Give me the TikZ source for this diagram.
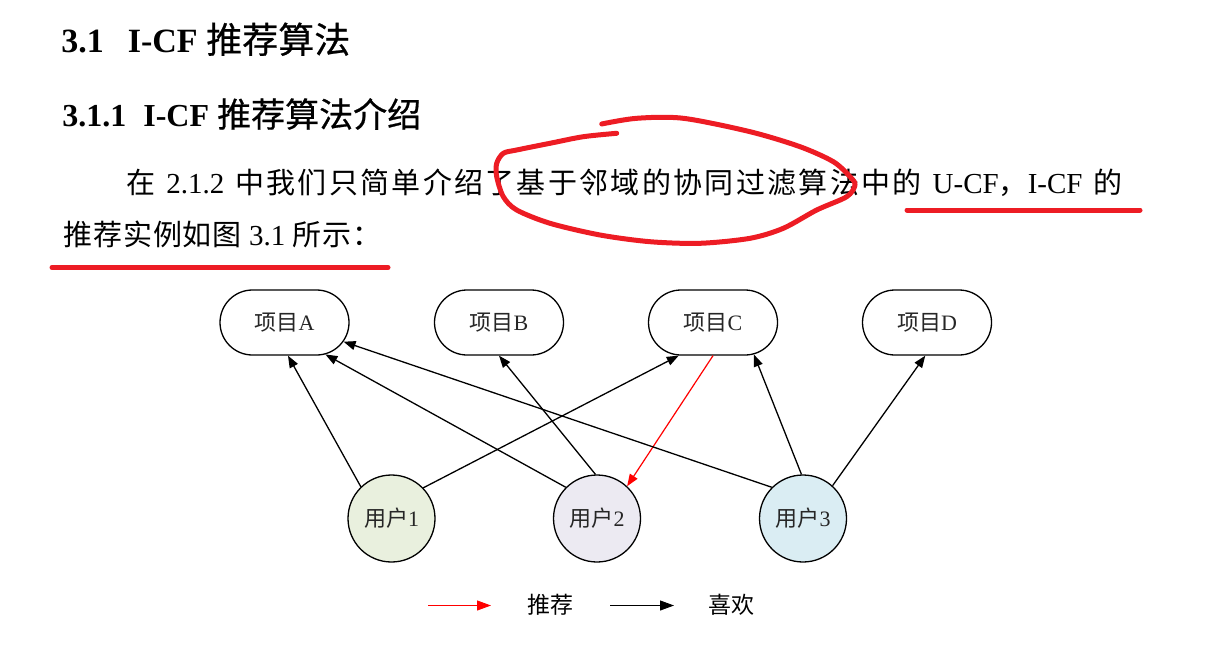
\documentclass[tikz,border=0pt]{standalone}
\usepackage{fontspec}
\setmainfont{Liberation Serif}
\newfontfamily\cjk{Noto Sans CJK SC}
\newfontfamily\cjkhead[FakeBold=0.6]{Noto Sans CJK SC}
\newfontfamily\cjkbody[LetterSpace=3]{Noto Sans CJK SC}
\newfontfamily\cjkwide[LetterSpace=8]{Noto Sans CJK SC}
\usetikzlibrary{arrows.meta,shapes.misc}
\definecolor{markred}{HTML}{ED1C24}
\definecolor{fillone}{HTML}{E9F0DE}
\definecolor{filltwo}{HTML}{ECEAF2}
\definecolor{fillthree}{HTML}{DAEDF3}

\begin{document}
\begin{tikzpicture}
[x=0.5pt,y=-0.5pt,
item/.style={rounded rectangle,draw=black,line width=0.65pt,minimum width=64.5pt,minimum height=32.5pt,inner sep=0pt,text=black!85,font=\fontsize{11}{13}\selectfont},
user/.style={circle,draw=black,line width=0.65pt,minimum size=43.5pt,inner sep=0pt,text=black!85,font=\fontsize{11}{13}\selectfont},
likes/.style={draw=black,line width=0.65pt,-{Triangle[length=6pt,width=4.5pt]}},
recommends/.style={draw=red,line width=0.6pt,-{Triangle[length=6pt,width=4.5pt]}},
legendarrow/.style={line width=0.5pt,-{Triangle[length=7pt,width=5pt]}},
pen/.style={draw=markred,line width=2.5pt,line cap=round,line join=round}]

\useasboundingbox (0,0) rectangle (1218,663);

% headings
\node[anchor=base west,inner sep=0pt,font=\fontsize{17}{20}\selectfont\bfseries] (title) at (61,53) {3.1\hspace{12pt}I-CF {\fontsize{18}{20}\selectfont\mdseries\cjkhead 推荐算法}};
\node[anchor=base west,inner sep=0pt,font=\fontsize{16}{18}\selectfont\bfseries] (subtitle) at (62,127) {3.1.1\hspace{8.5pt}I-CF {\fontsize{17}{20}\selectfont\mdseries\cjkhead 推荐算法介绍}};

% paragraph
\node[anchor=base west,inner sep=0pt,font=\fontsize{14.5}{17}\selectfont] (lineone) at (126,193) {\makebox[498pt][s]{{\cjkwide 在} 2.1.2 {\cjkwide 中我们只简单介绍了基于邻域的协同过滤算法中的} U-CF{\cjkwide ，}I-CF {\cjkwide 的}}};
\node[anchor=base west,inner sep=0pt,font=\fontsize{14.5}{17}\selectfont] (linetwo) at (63,245) {{\cjkbody 推荐实例如图} 3.1 {\cjkbody 所示：}};

% items
\node[item] (A) at (284.5,322.5) {{\cjk 项目}A};
\node[item] (B) at (499,322.5) {{\cjk 项目}B};
\node[item] (C) at (713,322.5) {{\cjk 项目}C};
\node[item] (D) at (927,322.5) {{\cjk 项目}D};

% users
\node[user,fill=fillone] (u1) at (391.5,518.5) {{\cjk 用户}1};
\node[user,fill=filltwo] (u2) at (597,518.5) {{\cjk 用户}2};
\node[user,fill=fillthree] (u3) at (803,518.5) {{\cjk 用户}3};

\draw[likes] (u1.134) -- (A.276);
\draw[likes] (u1.44) -- (C.224);
\draw[likes] (u2.135) -- (A.322);
\draw[likes] (u2.92) -- (B.270);
\draw[recommends] (C.270) -- (u2.47);
\draw[likes] (u3.135) -- (A.342);
\draw[likes] (u3.92) -- (C.322);
\draw[likes] (u3.48) -- (D.267);

% legend
\coordinate (r0) at (428,605.5);
\coordinate (r1) at (491,605.5);
\coordinate (b0) at (610,605.5);
\coordinate (b1) at (674,605.5);
\draw[legendarrow,red] (r0) -- (r1);
\node[font=\fontsize{11.5}{13}\selectfont\cjk] (rectext) at (550,605) {推荐};
\draw[legendarrow,black] (b0) -- (b1);
\node[font=\fontsize{11.5}{13}\selectfont\cjk] (liketext) at (731,605) {喜欢};

% red pen marks
\draw[pen] plot[smooth] coordinates {(601.7,124) (636.7,118.3) (683.3,118.3) (750,131.7) (800,146.7) (833.3,161.7) (850,176.7) (855,185) (846.7,196.7) (816.7,210) (783.3,228.3) (750,238.3) (700,243.3) (650,241.7) (600,235) (550,223.3) (516.7,210) (503.3,196.7) (496.7,176.7) (496.7,163.3) (503.3,153.3) (516.7,150) (550,143.3) (583.3,136.7) (616.7,133.3)};
\draw[pen] (907,210) -- (1140,210);
\draw[pen] (52,267.5) -- (388,267.5);
\end{tikzpicture}
\end{document}
